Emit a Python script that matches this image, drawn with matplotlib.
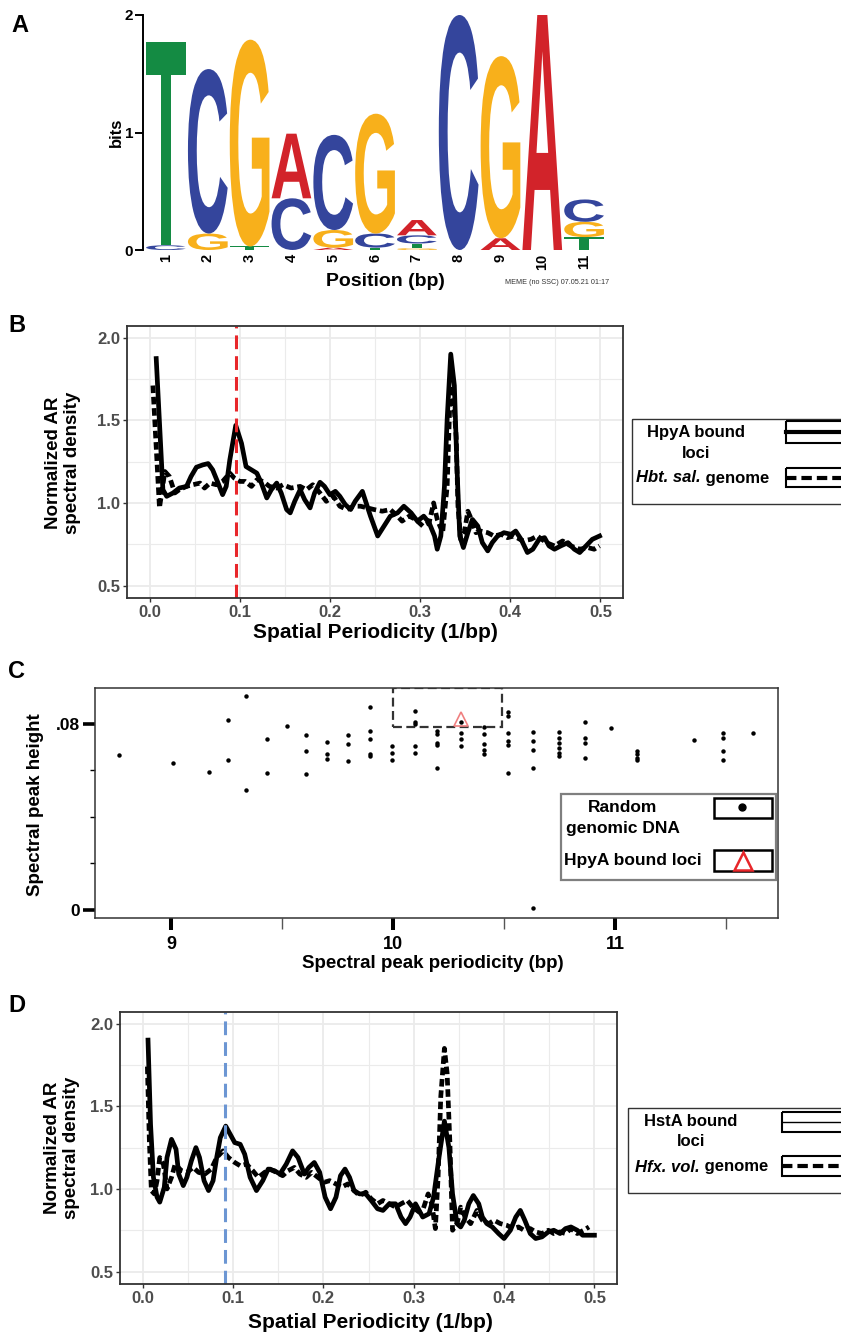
import matplotlib
matplotlib.use('Agg')
import numpy as np
import matplotlib.pyplot as plt
from matplotlib.font_manager import FontProperties
from matplotlib.textpath import TextPath
from matplotlib.patches import PathPatch, Rectangle
from matplotlib.transforms import Affine2D

plt.rcParams['font.family'] = ['Liberation Sans', 'DejaVu Sans']

W, H = 841, 1338

# ---------------- data ----------------
# panel A: motif information content (bits) per position
positions = list(range(1, 12))
bits_A = [0.00, 0.00, 0.00, 0.55, 0.02, 0.00, 0.13, 0.00, 0.10, 2.00, 0.00]
bits_C = [0.04, 1.40, 0.00, 0.44, 0.81, 0.12, 0.07, 2.00, 0.00, 0.00, 0.19]
bits_G = [0.00, 0.14, 1.76, 0.00, 0.15, 1.02, 0.015, 0.00, 1.55, 0.00, 0.13]
bits_T = [1.73, 0.00, 0.03, 0.00, 0.00, 0.02, 0.04, 0.00, 0.00, 0.00, 0.11]
base_colors = {'A': '#D2232A', 'C': '#34459C', 'G': '#F8B01B', 'T': '#148B43'}

# panel B: normalized AR spectral density (HpyA bound loci / Hbt. sal. genome)
B_bound = [(0.0074, 1.873), (0.0148, 1.08), (0.019, 1.04), (0.026, 1.06), (0.033, 1.09),
           (0.041, 1.10), (0.046, 1.16), (0.052, 1.216), (0.059, 1.23), (0.065, 1.238),
           (0.070, 1.20), (0.076, 1.12), (0.081, 1.05), (0.085, 1.10), (0.089, 1.26),
           (0.0956, 1.469), (0.102, 1.36), (0.107, 1.22), (0.113, 1.20), (0.119, 1.18),
           (0.124, 1.12), (0.130, 1.03), (0.135, 1.08), (0.141, 1.12), (0.146, 1.06),
           (0.152, 0.96), (0.156, 0.94), (0.161, 1.01), (0.167, 1.08), (0.172, 1.02),
           (0.178, 0.97), (0.183, 1.06), (0.189, 1.125), (0.194, 1.10), (0.200, 1.05),
           (0.206, 1.07), (0.211, 1.04), (0.217, 0.99), (0.223, 0.96), (0.228, 1.01),
           (0.236, 1.07), (0.245, 0.92), (0.253, 0.80), (0.260, 0.86), (0.267, 0.92),
           (0.275, 0.94), (0.282, 0.98), (0.290, 0.94), (0.297, 0.89), (0.304, 0.92),
           (0.310, 0.88), (0.316, 0.80), (0.319, 0.72), (0.323, 0.80), (0.327, 1.10),
           (0.330, 1.505), (0.334, 1.90), (0.338, 1.71), (0.341, 1.20), (0.344, 0.80),
           (0.348, 0.73), (0.353, 0.82), (0.358, 0.90), (0.364, 0.86), (0.369, 0.76),
           (0.375, 0.71), (0.380, 0.76), (0.386, 0.80), (0.393, 0.82), (0.401, 0.81),
           (0.406, 0.83), (0.412, 0.78), (0.419, 0.70), (0.425, 0.72), (0.432, 0.78),
           (0.438, 0.79), (0.443, 0.74), (0.449, 0.72), (0.456, 0.74), (0.464, 0.76),
           (0.471, 0.72), (0.477, 0.70), (0.484, 0.74), (0.491, 0.78), (0.499, 0.80)]
B_genome = [(0.0037, 1.71), (0.011, 0.97), (0.017, 1.19), (0.022, 1.16), (0.028, 1.06),
            (0.033, 1.08), (0.041, 1.10), (0.048, 1.11), (0.056, 1.12), (0.061, 1.09),
            (0.067, 1.12), (0.074, 1.11), (0.081, 1.13), (0.089, 1.18), (0.094, 1.15),
            (0.100, 1.13), (0.106, 1.13), (0.113, 1.10), (0.119, 1.14), (0.126, 1.13),
            (0.133, 1.10), (0.141, 1.09), (0.148, 1.11), (0.157, 1.09), (0.167, 1.10),
            (0.174, 1.08), (0.181, 1.11), (0.189, 1.06), (0.196, 1.01), (0.204, 1.04),
            (0.211, 0.98), (0.219, 0.96), (0.226, 0.98), (0.234, 0.98), (0.249, 0.96),
            (0.258, 0.95), (0.267, 0.96), (0.275, 0.92), (0.280, 0.89), (0.288, 0.92),
            (0.295, 0.90), (0.303, 0.86), (0.310, 0.88), (0.315, 1.00), (0.319, 0.90),
            (0.325, 0.82), (0.330, 1.10), (0.333, 1.61), (0.336, 1.71), (0.340, 1.40),
            (0.342, 0.98), (0.345, 0.78), (0.349, 0.82), (0.353, 0.95), (0.357, 0.90),
            (0.362, 0.82), (0.367, 0.83), (0.375, 0.82), (0.382, 0.80), (0.390, 0.81),
            (0.397, 0.79), (0.404, 0.80), (0.414, 0.77), (0.423, 0.78), (0.430, 0.80),
            (0.440, 0.76), (0.449, 0.74), (0.458, 0.77), (0.467, 0.74), (0.477, 0.72),
            (0.486, 0.73), (0.493, 0.72), (0.499, 0.74)]
B_peak = 0.0956

# panel C: spectral peaks of random genomic DNA (periodicity bp, height)
C_random = [(8.767, 0.0665), (9.01, 0.0632), (9.17, 0.0594), (9.256, 0.0816), (9.256, 0.0646),
            (9.338, 0.0919), (9.338, 0.0515), (9.432, 0.0734), (9.432, 0.059), (9.52, 0.079),
            (9.608, 0.0754), (9.608, 0.0685), (9.608, 0.0586), (9.70, 0.0721), (9.70, 0.067),
            (9.70, 0.065), (9.796, 0.0754), (9.796, 0.0715), (9.796, 0.064), (9.894, 0.0875),
            (9.894, 0.077), (9.894, 0.0734), (9.894, 0.067), (9.894, 0.066), (9.994, 0.0705),
            (9.994, 0.0676), (9.994, 0.0645), (10.097, 0.0856), (10.097, 0.0809), (10.097, 0.0799),
            (10.097, 0.0705), (10.097, 0.0676), (10.2, 0.077), (10.2, 0.0755), (10.2, 0.072),
            (10.2, 0.0708), (10.2, 0.061), (10.305, 0.081), (10.305, 0.0763), (10.305, 0.0734),
            (10.305, 0.0705), (10.41, 0.0788), (10.41, 0.0755), (10.41, 0.0712), (10.41, 0.069),
            (10.41, 0.0672), (10.518, 0.085), (10.518, 0.0835), (10.518, 0.076), (10.518, 0.0727),
            (10.518, 0.0708), (10.518, 0.059), (10.63, 0.0766), (10.63, 0.0727), (10.63, 0.069),
            (10.63, 0.061), (10.63, 0.0007), (10.746, 0.0766), (10.746, 0.0741), (10.746, 0.072),
            (10.746, 0.0698), (10.746, 0.0676), (10.746, 0.066), (10.863, 0.081), (10.863, 0.0741),
            (10.863, 0.072), (10.863, 0.0655), (10.98, 0.0784), (11.10, 0.0683), (11.10, 0.067),
            (11.10, 0.0655), (11.10, 0.0645), (11.357, 0.073), (11.487, 0.0763), (11.487, 0.0741),
            (11.487, 0.0683), (11.487, 0.0645), (11.62, 0.076)]
C_bound = (10.305, 0.0822)
C_box = (10.0, 10.49, 0.0789, 0.0953)

# panel D: normalized AR spectral density (HstA bound loci / Hfx. vol. genome)
D_bound = [(0.006, 1.90), (0.0088, 1.39), (0.012, 1.07), (0.016, 0.95), (0.019, 0.92),
           (0.024, 1.01), (0.027, 1.19), (0.032, 1.30), (0.037, 1.24), (0.040, 1.09),
           (0.045, 1.02), (0.049, 1.07), (0.054, 1.17), (0.059, 1.25), (0.063, 1.19),
           (0.068, 1.05), (0.073, 0.99), (0.078, 1.05), (0.082, 1.19), (0.086, 1.31),
           (0.092, 1.38), (0.097, 1.33), (0.102, 1.28), (0.108, 1.27), (0.113, 1.21),
           (0.119, 1.07), (0.126, 0.99), (0.133, 1.05), (0.139, 1.12), (0.146, 1.11),
           (0.152, 1.09), (0.159, 1.15), (0.166, 1.23), (0.172, 1.19), (0.179, 1.09),
           (0.184, 1.13), (0.190, 1.16), (0.196, 1.10), (0.202, 0.95), (0.208, 0.88),
           (0.214, 0.95), (0.219, 1.08), (0.224, 1.12), (0.229, 1.07), (0.234, 0.99),
           (0.240, 0.97), (0.247, 0.97), (0.253, 0.93), (0.260, 0.88), (0.266, 0.87),
           (0.273, 0.91), (0.280, 0.91), (0.286, 0.83), (0.291, 0.79), (0.296, 0.83),
           (0.302, 0.91), (0.306, 0.87), (0.310, 0.83), (0.317, 0.85), (0.322, 0.95),
           (0.328, 1.19), (0.334, 1.41), (0.339, 1.25), (0.343, 0.97), (0.348, 0.79),
           (0.352, 0.77), (0.356, 0.81), (0.361, 0.91), (0.366, 0.96), (0.372, 0.91),
           (0.376, 0.83), (0.381, 0.79), (0.387, 0.77), (0.394, 0.73), (0.400, 0.70),
           (0.407, 0.75), (0.413, 0.83), (0.418, 0.87), (0.423, 0.81), (0.429, 0.73),
           (0.435, 0.70), (0.442, 0.71), (0.449, 0.74), (0.455, 0.75), (0.462, 0.73),
           (0.468, 0.76), (0.474, 0.77), (0.481, 0.75), (0.487, 0.72), (0.494, 0.72),
           (0.500, 0.72)]
D_genome = [(0.0053, 1.74), (0.0075, 1.29), (0.0097, 0.99), (0.013, 0.97), (0.016, 1.05),
            (0.019, 1.19), (0.023, 1.15), (0.027, 1.00), (0.032, 1.07), (0.036, 1.15),
            (0.043, 1.11), (0.049, 1.10), (0.056, 1.13), (0.062, 1.10), (0.069, 1.09),
            (0.076, 1.12), (0.082, 1.19), (0.089, 1.23), (0.095, 1.19), (0.102, 1.16),
            (0.108, 1.14), (0.115, 1.15), (0.122, 1.11), (0.128, 1.07), (0.135, 1.10),
            (0.141, 1.12), (0.148, 1.10), (0.155, 1.08), (0.161, 1.11), (0.168, 1.13),
            (0.174, 1.09), (0.181, 1.07), (0.187, 1.10), (0.194, 1.07), (0.201, 1.04),
            (0.207, 1.05), (0.214, 1.03), (0.220, 1.01), (0.227, 1.03), (0.234, 0.99),
            (0.240, 0.96), (0.247, 0.98), (0.253, 0.94), (0.260, 0.91), (0.266, 0.93),
            (0.273, 0.91), (0.280, 0.89), (0.286, 0.91), (0.293, 0.93), (0.299, 0.89),
            (0.306, 0.86), (0.310, 0.87), (0.316, 0.97), (0.320, 0.91), (0.324, 0.76),
            (0.327, 1.07), (0.330, 1.56), (0.334, 1.85), (0.337, 1.70), (0.340, 1.29),
            (0.343, 0.75), (0.348, 0.79), (0.352, 0.89), (0.357, 0.83), (0.363, 0.79),
            (0.370, 0.87), (0.376, 0.81), (0.383, 0.79), (0.389, 0.81), (0.396, 0.79),
            (0.403, 0.78), (0.410, 0.76), (0.416, 0.77), (0.422, 0.75), (0.429, 0.76),
            (0.435, 0.74), (0.442, 0.73), (0.449, 0.75), (0.455, 0.73), (0.462, 0.74),
            (0.468, 0.73), (0.474, 0.76), (0.481, 0.73), (0.488, 0.75), (0.494, 0.77)]
D_peak = 0.091

# ---------------- figure ----------------
fig = plt.figure(figsize=(W / 100, H / 100), dpi=100)


def px_axes(x0, y0, x1, y1):
    # axes from pixel box (top-left origin)
    return fig.add_axes([x0 / W, 1 - y1 / H, (x1 - x0) / W, (y1 - y0) / H])


def ftext(x, y, s, **kw):
    return fig.text(x / W, 1 - y / H, s, **kw)


# ---- panel A: sequence logo
axA = px_axes(143, 15, 605, 250)
axA.set_xlim(0.45, 11.5)
axA.set_ylim(0, 2)
letter_font = FontProperties(family='Liberation Sans', weight='bold')


def draw_letter(ax, ch, xc, y0, h, color, w=0.95):
    tp = TextPath((0, 0), ch, size=1, prop=letter_font)
    bb = tp.get_extents()
    tr = Affine2D().translate(-bb.x0, -bb.y0).scale(w / bb.width, h / bb.height).translate(xc - w / 2, y0)
    ax.add_patch(PathPatch(tr.transform_path(tp), fc=color, ec='none'))


for i, pos in enumerate(positions):
    stack = sorted([('A', bits_A[i]), ('C', bits_C[i]), ('G', bits_G[i]), ('T', bits_T[i])],
                   key=lambda t: t[1])
    y0 = 0.0
    for base, h in stack:
        if h > 0:
            draw_letter(axA, base, pos, y0, h, base_colors[base])
            y0 += h

for s in ['top', 'right', 'bottom']:
    axA.spines[s].set_visible(False)
axA.spines['left'].set_linewidth(1.4)
axA.set_yticks([0, 1, 2])
axA.set_yticklabels(['0', '1', '2'], fontsize=11, fontweight='bold')
axA.tick_params(axis='y', length=6, width=1.4, pad=1)
axA.set_xticks(positions)
axA.set_xticklabels([str(p) for p in positions], rotation=90, fontsize=10.5, fontweight='bold')
axA.tick_params(axis='x', length=0, pad=3)
axA.patch.set_alpha(0)
ftext(116, 132, 'bits', rotation=90, ha='center', va='center', fontsize=12, fontweight='bold')
ftext(385, 282, 'Position (bp)', ha='center', va='center', fontsize=14, fontweight='bold')
ftext(557, 283, 'MEME (no SSC) 07.05.21 01:17', ha='center', va='center', fontsize=5.2, color='#333333')


# ---- panels B and D: ggplot-like spectra
def style_spectrum(ax):
    ax.set_xlim(-0.025, 0.525)
    ax.set_ylim(0.425, 2.07)
    ax.set_xticks([0.0, 0.1, 0.2, 0.3, 0.4, 0.5])
    ax.set_xticklabels(['0.0', '0.1', '0.2', '0.3', '0.4', '0.5'])
    ax.set_yticks([0.5, 1.0, 1.5, 2.0])
    ax.set_yticklabels(['0.5', '1.0', '1.5', '2.0'])
    ax.set_xticks([0.05, 0.15, 0.25, 0.35, 0.45], minor=True)
    ax.set_yticks([0.75, 1.25, 1.75], minor=True)
    ax.grid(which='major', color='#EBEBEB', lw=1.3)
    ax.grid(which='minor', color='#EBEBEB', lw=0.8)
    ax.set_axisbelow(True)
    for s in ax.spines.values():
        s.set_color('#333333')
        s.set_linewidth(1.3)
    ax.tick_params(which='major', length=3, width=1, color='#333333', labelsize=12,
                   labelcolor='#4D4D4D', pad=2)
    ax.tick_params(which='minor', length=0)
    for lab in ax.get_xticklabels() + ax.get_yticklabels():
        lab.set_fontweight('bold')


axB = px_axes(127, 326, 623, 598)
style_spectrum(axB)
bx, by = np.array(B_bound).T
gx, gy = np.array(B_genome).T
axB.plot(gx, gy, color='black', lw=3.4, ls=(0, (1.6, 0.8)), solid_capstyle='butt')
axB.plot(bx, by, color='black', lw=3.4, solid_joinstyle='round')
axB.axvline(B_peak, color='#E8262A', lw=2.2, ls=(0, (4.5, 2.3)))
ftext(375, 633, 'Spatial Periodicity (1/bp)', ha='center', va='center', fontsize=15, fontweight='bold')
ftext(63, 463, 'Normalized AR\nspectral density', rotation=90, ha='center', va='center',
      fontsize=13.5, fontweight='bold', linespacing=1.1)

axD = px_axes(120, 1012, 617, 1284)
style_spectrum(axD)
dx, dy = np.array(D_bound).T
hx, hy = np.array(D_genome).T
axD.plot(hx, hy, color='black', lw=3.4, ls=(0, (1.6, 0.8)), solid_capstyle='butt')
axD.plot(dx, dy, color='black', lw=3.4, solid_joinstyle='round')
axD.axvline(D_peak, color='#6C96D3', lw=2.2, ls=(0, (4.5, 2.3)))
ftext(370, 1322, 'Spatial Periodicity (1/bp)', ha='center', va='center', fontsize=15, fontweight='bold')
ftext(62, 1148, 'Normalized AR\nspectral density', rotation=90, ha='center', va='center',
      fontsize=13.5, fontweight='bold', linespacing=1.1)

# ---- panel C: scatter of spectral peaks
axC = px_axes(95, 688, 778, 918)
axC.set_xlim(8.657, 11.734)
axC.set_ylim(-0.0036, 0.0955)
cx, cy = np.array(C_random).T
axC.plot(cx, cy, 'o', color='black', ms=3.2, mew=0)
axC.plot([C_bound[0]], [C_bound[1]], '^', mfc='none', mec='#F08080', ms=10, mew=1.2)
x0b, x1b, y0b, y1b = C_box
axC.add_patch(Rectangle((x0b, y0b), x1b - x0b, y1b - y0b, fill=False, ec='#333333',
                        lw=1.6, ls=(0, (4, 2))))
for s in axC.spines.values():
    s.set_color('#333333')
    s.set_linewidth(1.1)
axC.set_xticks([9, 10, 11])
axC.set_xticklabels(['9', '10', '11'], fontsize=13, fontweight='bold')
axC.set_xticks([9.5, 10.5, 11.5], minor=True)
axC.set_yticks([0, 0.08])
axC.set_yticklabels(['0', '.08'], fontsize=12.5, fontweight='bold')
axC.set_yticks([0.02, 0.04, 0.06], minor=True)
axC.tick_params(axis='x', which='major', length=8.6, width=2.9, pad=4.3)
axC.tick_params(axis='x', which='minor', length=8.0, width=1.0, color='#555555')
axC.tick_params(axis='y', which='major', length=8.6, width=2.6, pad=2)
axC.tick_params(axis='y', which='minor', length=3.5, width=1.0)
ftext(433, 963, 'Spectral peak periodicity (bp)', ha='center', va='center', fontsize=13.5, fontweight='bold')
ftext(36, 805, 'Spectral peak height', rotation=90, ha='center', va='center', fontsize=13.5,
      fontweight='bold')

# ---- overlay for legends and panel letters
ov = fig.add_axes([0, 0, 1, 1], zorder=10)
ov.set_xlim(0, W)
ov.set_ylim(H, 0)
ov.axis('off')

# legend B
ov.add_patch(Rectangle((632.5, 419), 215, 85, fill=False, ec='#333333', lw=1.0))
ov.add_patch(Rectangle((786, 421), 60, 22, fill=False, ec='black', lw=1.5))
ov.plot([786, 846], [431.5, 431.5], color='black', lw=3.0)
ov.add_patch(Rectangle((786, 468), 60, 19, fill=False, ec='black', lw=1.5))
ov.plot([786, 846], [478, 478], color='black', lw=3.0, ls=(0, (2.5, 1.2)))
ov.text(696, 432, 'HpyA bound', ha='center', va='center', fontsize=12, fontweight='bold')
ov.text(696, 453, 'loci', ha='center', va='center', fontsize=12, fontweight='bold')
t1 = ov.text(636, 478, 'Hbt. sal.', ha='left', va='center', fontsize=12, fontweight='bold', style='italic')
ov.annotate(' genome', xy=(1, 0.5), xycoords=t1, ha='left', va='center', fontsize=12, fontweight='bold')

# legend D
ov.add_patch(Rectangle((628.5, 1108), 220, 85, fill=False, ec='#333333', lw=1.0))
ov.add_patch(Rectangle((782, 1112), 64, 20, fill=False, ec='black', lw=1.5))
ov.plot([782, 846], [1122, 1122], color='black', lw=1.0)
ov.add_patch(Rectangle((782, 1156), 64, 20, fill=False, ec='black', lw=1.5))
ov.plot([782, 846], [1166, 1166], color='black', lw=3.0, ls=(0, (2.5, 1.2)))
ov.text(691, 1121, 'HstA bound', ha='center', va='center', fontsize=12, fontweight='bold')
ov.text(691, 1142, 'loci', ha='center', va='center', fontsize=12, fontweight='bold')
t2 = ov.text(635, 1167, 'Hfx. vol.', ha='left', va='center', fontsize=12, fontweight='bold', style='italic')
ov.annotate(' genome', xy=(1, 0.5), xycoords=t2, ha='left', va='center', fontsize=12, fontweight='bold')

# legend C
ov.add_patch(Rectangle((561, 794), 215, 86, fill=False, ec='#7F7F7F', lw=1.6))
ov.add_patch(Rectangle((714, 798), 58, 20, fill=False, ec='black', lw=1.8))
ov.plot([742], [807], 'o', color='black', ms=5)
ov.add_patch(Rectangle((714, 850), 58, 21, fill=False, ec='black', lw=1.8))
ov.plot([743], [861], '^', mfc='none', mec='#E8262A', ms=13, mew=1.8)
ov.text(623, 807, 'Random', ha='center', va='center', fontsize=12.5, fontweight='bold')
ov.text(623, 828, 'genomic DNA', ha='center', va='center', fontsize=12.5, fontweight='bold')
ov.text(633, 861, 'HpyA bound loci', ha='center', va='center', fontsize=12.5, fontweight='bold')

# panel letters
for lab, (lx, ly) in {'A': (20, 25), 'B': (17, 326), 'C': (17, 672), 'D': (17, 1005)}.items():
    ov.text(lx, ly, lab, ha='center', va='center', fontsize=17, fontweight='bold')

fig.savefig('out.png', dpi=100)
